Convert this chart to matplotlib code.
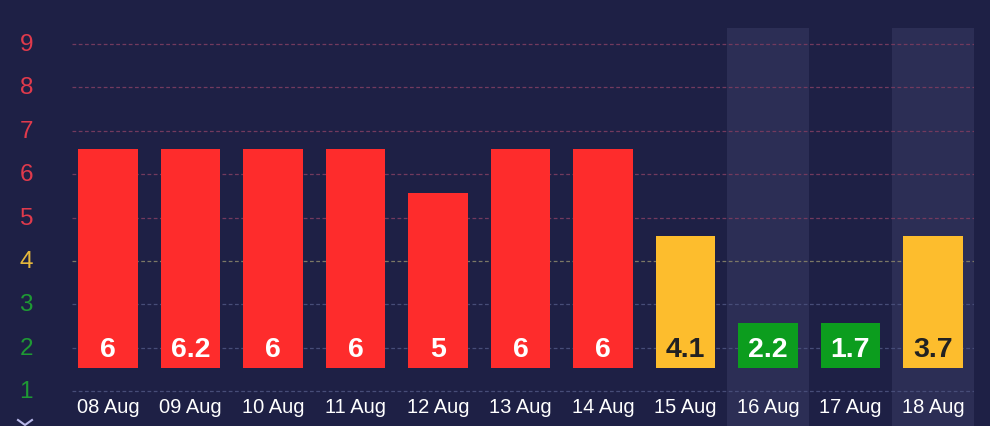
import matplotlib
matplotlib.use("Agg")
import matplotlib.pyplot as plt
from matplotlib.lines import Line2D

plt.rcParams['font.family'] = ['Liberation Sans', 'DejaVu Sans']

days = ['08 Aug', '09 Aug', '10 Aug', '11 Aug', '12 Aug', '13 Aug',
        '14 Aug', '15 Aug', '16 Aug', '17 Aug', '18 Aug']
values = [6, 6.2, 6, 6, 5, 6, 6, 4.1, 2.2, 1.7, 3.7]
# drawn bar tops (category level), bars start at a common base
bar_tops = [6.58, 6.58, 6.58, 6.58, 5.565, 6.58, 6.58, 4.58, 2.56, 2.56, 4.58]
bar_base = 1.53
highlight_days = ['16 Aug', '18 Aug']
levels = [1, 2, 3, 4, 5, 6, 7, 8, 9]

BG = '#1e2045'
BAND = '#2c2e55'
RED = '#fe2c2c'
YELLOW = '#fdbd2d'
GREEN = '#0c9d1e'


def level_colour(v):
    if v >= 5:
        return RED
    if v >= 3.5:
        return YELLOW
    return GREEN


tick_colours = {'red': '#e03a4c', 'yellow': '#e6b83c', 'green': '#1e9a34'}
grid_colours = {'red': '#733a5e', 'yellow': '#7c7866', 'green': '#474d78'}


def tier(v):
    if v >= 5:
        return 'red'
    if v == 4:
        return 'yellow'
    return 'green'


fig = plt.figure(figsize=(9.9, 4.27), dpi=100, facecolor=BG)
ax = fig.add_axes([66.75 / 990, 0, (974.25 - 66.75) / 990, (427 - 29) / 427])
ax.set_facecolor(BG)
ax.set_xlim(-0.5, len(days) - 0.5)
ax.set_ylim(0.193, 9.369)
for s in ax.spines.values():
    s.set_visible(False)
ax.set_xticks([])
ax.set_yticks([])

x = list(range(len(days)))

# weekend bands
for i, d in enumerate(days):
    if d in highlight_days:
        ax.axvspan(i - 0.5, i + 0.5, color=BAND, zorder=0, lw=0)

# grid + y labels
ytr = ax.get_yaxis_transform()
for lv in levels:
    t = tier(lv)
    ax.hlines(lv, -0.436, len(days) - 0.5, colors=grid_colours[t],
              linestyles=(0, (3, 2)), lw=0.9, zorder=1)
    ax.text(-40.5 / 907.5, lv, str(lv), transform=ytr, ha='center',
            va='center', fontsize=17.5, color=tick_colours[t])

# bars
heights = [top - bar_base for top in bar_tops]
colours = [level_colour(v) for v in values]
ax.bar(x, heights, bottom=bar_base, width=0.727, color=colours, zorder=2,
       lw=0)

for i, v in enumerate(values):
    txt_col = '#222222' if colours[i] == YELLOW else 'white'
    ax.text(i, 1.97, '{:g}'.format(v), ha='center', va='center',
            fontsize=20.5, fontweight='bold', color=txt_col, zorder=3)
    ax.text(i, 0.654, days[i], ha='center', va='center', fontsize=14.5,
            color='white', zorder=3)

# little chevron bottom-left
fig.lines.append(Line2D([18 / 990, 25 / 990, 32 / 990],
                        [1 - 421 / 427, 1 - 426 / 427, 1 - 421 / 427],
                        transform=fig.transFigure, color='#b9b9ea', lw=1.5))

fig.savefig('out.png', dpi=100, facecolor=BG)
